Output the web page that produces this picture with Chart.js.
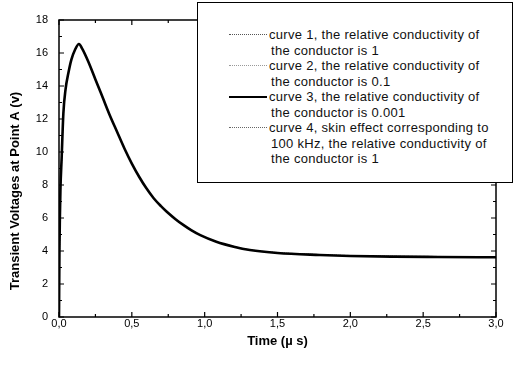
<!DOCTYPE html>
<html>
<head>
<meta charset="utf-8">
<script src="https://cdn.jsdelivr.net/npm/chart.js@4.4.1/dist/chart.umd.min.js"></script>
<style>
  html, body { margin: 0; padding: 0; background: #fff; }
  #wrap { position: relative; width: 515px; height: 366px; overflow: hidden; }
  #legend { position: absolute; left: 197px; top: 2px; width: 314px; height: 179px;
    border: 1.5px solid #000; background: #fff; font-family: "Liberation Sans", Arial, sans-serif;
    font-size: 13px; letter-spacing: 0.3px; color: #111; }
  .row { position: absolute; left: 0; white-space: nowrap; line-height: 15px; }
  .sample { position: absolute; width: 38px; height: 0; left: 31px; }
</style>
</head>
<body>
<div id="wrap">
  <canvas id="c" width="515" height="366"></canvas>
  <div id="legend"></div>
</div>
<script>
// ---- data ----
const timeValues = [0, 0.003, 0.006, 0.01, 0.018, 0.03, 0.045, 0.064, 0.085, 0.11, 0.137, 0.16, 0.2, 0.25, 0.3, 0.35, 0.4, 0.45, 0.5, 0.55, 0.6, 0.65, 0.7, 0.74, 0.8, 0.853, 0.91, 0.97, 1.08, 1.2, 1.31, 1.5, 1.79, 2.0, 2.3, 2.6, 3.0];
const curve1Values = [0, 3.6, 5.8, 7.6, 9.5, 12.3, 13.8, 14.77, 15.6, 16.2, 16.55, 16.25, 15.5, 14.4, 13.3, 12.2, 11.2, 10.2, 9.3, 8.5, 7.8, 7.2, 6.72, 6.38, 5.93, 5.58, 5.25, 4.96, 4.57, 4.28, 4.08, 3.9, 3.78, 3.72, 3.68, 3.66, 3.64];
const curve2Values = [0, 3.4, 5.6, 7.5, 9.4, 12.3, 13.8, 14.77, 15.6, 16.2, 16.55, 16.25, 15.5, 14.4, 13.3, 12.2, 11.2, 10.2, 9.3, 8.5, 7.8, 7.2, 6.72, 6.38, 5.93, 5.58, 5.25, 4.96, 4.57, 4.27, 4.07, 3.9, 3.77, 3.71, 3.67, 3.65, 3.63];
const curve3Values = [0, 4.0, 6.0, 7.8, 9.6, 12.35, 13.8, 14.77, 15.6, 16.2, 16.55, 16.25, 15.5, 14.4, 13.3, 12.2, 11.2, 10.2, 9.3, 8.5, 7.8, 7.2, 6.72, 6.38, 5.93, 5.58, 5.25, 4.96, 4.56, 4.26, 4.06, 3.88, 3.76, 3.7, 3.66, 3.64, 3.62];
const curve4Values = [0, 3.2, 5.4, 7.4, 9.4, 12.2, 13.7, 14.7, 15.55, 16.2, 16.5, 16.25, 15.5, 14.4, 13.3, 12.2, 11.2, 10.2, 9.3, 8.5, 7.8, 7.2, 6.72, 6.38, 5.93, 5.58, 5.25, 4.96, 4.58, 4.28, 4.08, 3.91, 3.79, 3.73, 3.69, 3.67, 3.65];
const seriesLabels = [
  ["curve 1, the relative conductivity of", "the conductor is 1"],
  ["curve 2, the relative conductivity of", "the conductor is 0.1"],
  ["curve 3, the relative conductivity of", "the conductor is 0.001"],
  ["curve 4, skin effect corresponding to", "100 kHz, the relative conductivity of", "the conductor is 1"]
];
const xTickValues = [0, 0.5, 1.0, 1.5, 2.0, 2.5, 3.0];
const yTickValues = [0, 2, 4, 6, 8, 10, 12, 14, 16, 18];
const xAxisTitle = "Time (\u00b5 s)";
const yAxisTitle = "Transient Voltages at Point A (v)";

const toPoints = vals => timeValues.map((t, i) => ({ x: t, y: vals[i] }));

const styles = [
  { color: '#555', width: 1, dash: [1, 1] },
  { color: '#999', width: 1, dash: [1, 1] },
  { color: '#000', width: 2.6, dash: [] },
  { color: '#666', width: 1, dash: [1, 3] }
];
const allValues = [curve1Values, curve2Values, curve3Values, curve4Values];
const datasets = allValues.map((vals, i) => ({
  label: seriesLabels[i].join(' '),
  data: toPoints(vals),
  borderColor: styles[i].color,
  borderWidth: styles[i].width,
  borderDash: styles[i].dash,
  pointRadius: 0,
  fill: false,
  cubicInterpolationMode: 'monotone',
  order: i === 2 ? 0 : 1
}));

const frameTicks = {
  id: 'frameTicks',
  afterDatasetsDraw(chart) {
    const { ctx, chartArea: a, scales: { x, y } } = chart;
    ctx.save();
    ctx.strokeStyle = '#000';
    ctx.lineWidth = 1.5;
    ctx.strokeRect(a.left, a.top, a.right - a.left, a.bottom - a.top);
    ctx.lineWidth = 1.2;
    ctx.beginPath();
    for (let v = 0; v <= 3.0001; v += 0.25) {
      const px = x.getPixelForValue(v);
      const major = Math.abs(v * 2 - Math.round(v * 2)) < 1e-6;
      const len = major ? 5 : 3;
      ctx.moveTo(px, a.bottom); ctx.lineTo(px, a.bottom - len);
      ctx.moveTo(px, a.top); ctx.lineTo(px, a.top + len);
    }
    for (let v = 0; v <= 18; v += 1) {
      const py = y.getPixelForValue(v);
      const len = v % 2 === 0 ? 5 : 3;
      ctx.moveTo(a.left, py); ctx.lineTo(a.left + len, py);
      ctx.moveTo(a.right, py); ctx.lineTo(a.right - len, py);
    }
    ctx.stroke();
    // y axis title
    ctx.fillStyle = '#000';
    ctx.font = 'bold 13px "Liberation Sans", Arial, sans-serif';
    ctx.textAlign = 'center';
    ctx.textBaseline = 'middle';
    ctx.translate(15, 191);
    ctx.rotate(-Math.PI / 2);
    ctx.fillText(yAxisTitle, 0, 0);
    ctx.restore();
  }
};

const chart = new Chart(document.getElementById('c'), {
  type: 'line',
  data: { datasets },
  options: {
    responsive: false,
    animation: false,
    layout: { padding: { left: 0, right: 19, top: 20, bottom: 0 } },
    plugins: { legend: { display: false }, tooltip: { enabled: false } },
    scales: {
      x: {
        type: 'linear', min: 0, max: 3,
        afterBuildTicks: s => { s.ticks = xTickValues.map(v => ({ value: v })); },
        afterFit: s => { s.height = 49; },
        grid: { display: false, drawTicks: false },
        border: { display: false },
        ticks: {
          padding: 0, color: '#000', maxRotation: 0,
          font: { family: '"Liberation Sans", Arial, sans-serif', size: 11 },
          callback: v => v.toFixed(1).replace('.', ',')
        },
        title: {
          display: true, text: xAxisTitle, color: '#000',
          font: { family: '"Liberation Sans", Arial, sans-serif', size: 13, weight: 'bold' },
          padding: { top: 0, bottom: 17 }
        }
      },
      y: {
        type: 'linear', min: 0, max: 18,
        afterBuildTicks: s => { s.ticks = yTickValues.map(v => ({ value: v })); },
        afterFit: s => { s.width = 59; },
        grid: { display: false, drawTicks: false },
        border: { display: false },
        ticks: {
          padding: 11, color: '#000',
          font: { family: '"Liberation Sans", Arial, sans-serif', size: 11 }
        }
      }
    }
  },
  plugins: [frameTicks]
});

// ---- legend box (HTML text) ----
const legend = document.getElementById('legend');
let line = 0;
seriesLabels.forEach((lines, i) => {
  lines.forEach((txt, j) => {
    const row = document.createElement('div');
    row.className = 'row';
    row.style.top = (24 + line * 15.5) + 'px';
    row.style.left = (j === 0 ? 71 : 73) + 'px';
    row.textContent = txt;
    legend.appendChild(row);
    if (j === 0) {
      const s = document.createElement('div');
      s.className = 'sample';
      s.style.top = (31 + line * 15.5) + 'px';
      const st = styles[i];
      s.style.borderTop = st.dash.length ? `1px dotted ${st.color}` : `2px solid ${st.color}`;
      legend.appendChild(s);
    }
    line++;
  });
});
</script>
</body>
</html>
